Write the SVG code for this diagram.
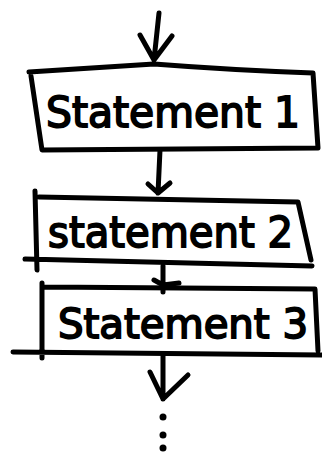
<svg xmlns="http://www.w3.org/2000/svg" width="322" height="459" viewBox="0 0 322 459">
  <style>
    .ink { fill: none; stroke: #000; stroke-width: 5; stroke-linecap: round; stroke-linejoin: round; }
    .label { font-family: "DejaVu Sans", "Liberation Sans", sans-serif; fill: #000; stroke: #000; stroke-width: 1.8; }
    .dot { fill: #000; }
  </style>
  <rect width="322" height="459" fill="#fff"/>

  <!-- flow arrows between the statements -->
  <g id="connectors">
    <path class="ink" d="M159,13 L154,60 M140,35 L154,60 L172,36"/>
    <path class="ink" d="M160,150 L158,193 M148,184 L158,193 L170,183"/>
    <path class="ink" d="M163,266 L163,292 M154,280 L163,285 L179,283"/>
    <path class="ink" d="M163,356 L163,399 M150,372 L163,399 L188,375"/>
    <circle class="dot" cx="163" cy="417" r="3.5"/>
    <circle class="dot" cx="163" cy="435" r="3.5"/>
    <circle class="dot" cx="163" cy="448" r="3.5"/>
  </g>

  <g id="statement1">
    <path class="ink" d="M29,72 Q90,68 154,64 Q230,70 313,73 L318,148 L42,150 L31,76"/>
    <text class="label" x="46" y="127" font-size="42" textLength="254" lengthAdjust="spacingAndGlyphs">Statement 1</text>
  </g>

  <g id="statement2">
    <path class="ink" d="M35,191 L37,270 M39,197 L298,202 L311,260 M25,259 L312,266"/>
    <text class="label" x="48" y="247" font-size="42" textLength="245" lengthAdjust="spacingAndGlyphs">statement 2</text>
  </g>

  <g id="statement3">
    <path class="ink" d="M42,283 L42,358 M44,287 L315,289 L318,351 M13,352 L322,355"/>
    <text class="label" x="58" y="338" font-size="40" textLength="250" lengthAdjust="spacingAndGlyphs">Statement 3</text>
  </g>
</svg>
